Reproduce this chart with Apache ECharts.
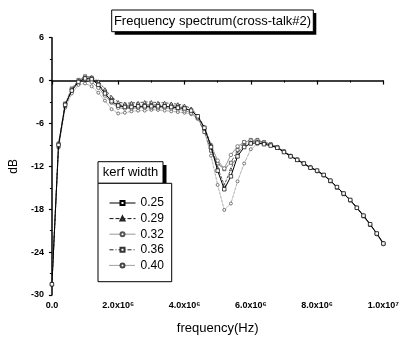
<!DOCTYPE html>
<html><head><meta charset="utf-8">
<script src="https://cdn.jsdelivr.net/npm/echarts@6/dist/echarts.min.js"></script>
<style>html,body{margin:0;padding:0;background:#fff}#c{width:402px;height:340px}</style>
</head><body><div id="c"></div>
<script>
// frequency (Hz)
const freq = [0,2e5,4e5,6e5,8e5,1.0e6,1.2e6,1.4e6,1.6e6,1.8e6,2.0e6,2.2e6,2.4e6,2.6e6,2.8e6,3.0e6,3.2e6,3.4e6,3.6e6,3.8e6,
  4.0e6,4.2e6,4.4e6,4.6e6,4.8e6,5.0e6,5.2e6,5.4e6,5.6e6,5.8e6,6.0e6,6.2e6,6.4e6,6.6e6,6.8e6,7.0e6,7.2e6,7.4e6,7.6e6,7.8e6,
  8.0e6,8.2e6,8.4e6,8.6e6,8.8e6,9.0e6,9.2e6,9.4e6,9.6e6,9.8e6,1.0e7];
// dB values per kerf width
const kerf025 = [-28.5,-9.0,-3.4,-1.4,-0.2,0.3,0.2,-0.6,-1.8,-2.9,-3.5,-3.7,-3.7,-3.6,-3.6,-3.6,-3.6,-3.6,-3.7,-3.8,
  -3.9,-4.2,-5.0,-6.6,-9.3,-12.6,-15.2,-13.4,-10.6,-9.3,-8.8,-8.7,-8.9,-9.1,-9.4,-10.0,-10.6,-11.1,-11.6,-12.2,
  -12.6,-13.2,-14.0,-14.9,-15.8,-16.7,-17.8,-18.9,-20.1,-21.4,-22.8];
const kerf029 = [-28.5,-9.2,-3.5,-1.3,0.0,0.5,0.5,-0.1,-1.2,-2.3,-3.0,-3.2,-3.1,-3.1,-3.0,-3.0,-3.1,-3.1,-3.2,-3.3,
  -3.5,-3.9,-4.9,-6.5,-9.0,-12.2,-14.6,-12.4,-10.2,-9.0,-8.6,-8.5,-8.7,-9.0,-9.4,-9.9,-10.5,-11.1,-11.6,-12.1,
  -12.6,-13.2,-14.0,-14.9,-15.8,-16.7,-17.8,-18.9,-20.1,-21.4,-22.7];
const kerf032 = [-28.5,-9.0,-3.3,-1.2,-0.1,0.2,-0.2,-1.0,-2.1,-3.1,-3.8,-3.9,-3.9,-3.8,-3.8,-3.8,-3.8,-3.8,-3.9,-4.0,
  -4.2,-4.5,-5.2,-6.7,-9.0,-11.2,-12.3,-10.4,-9.2,-8.6,-8.4,-8.4,-8.6,-8.9,-9.3,-9.9,-10.5,-11.0,-11.6,-12.1,
  -12.7,-13.3,-14.0,-14.9,-15.8,-16.8,-17.8,-18.9,-20.1,-21.5,-22.9];
const kerf036 = [-28.5,-8.8,-3.2,-1.1,0.1,0.6,0.4,-0.5,-1.5,-2.6,-3.4,-3.5,-3.4,-3.4,-3.4,-3.4,-3.4,-3.5,-3.5,-3.6,
  -3.8,-4.3,-5.3,-7.2,-9.8,-11.6,-12.4,-11.5,-9.7,-8.6,-8.3,-8.3,-8.6,-8.9,-9.3,-9.9,-10.6,-11.1,-11.6,-12.2,
  -12.6,-13.2,-14.1,-15.0,-15.9,-16.7,-17.8,-19.0,-20.2,-21.4,-22.8];
const kerf040 = [-28.5,-9.4,-3.8,-1.8,-0.6,-0.4,-0.8,-1.7,-2.8,-4.0,-4.6,-4.5,-4.3,-4.2,-4.2,-4.1,-4.1,-4.2,-4.3,-4.4,
  -4.5,-4.7,-5.3,-7.0,-10.5,-14.6,-18.1,-17.2,-14.1,-11.6,-9.6,-8.9,-8.8,-9.0,-9.4,-10.0,-10.6,-11.1,-11.7,-12.2,
  -12.6,-13.2,-14.0,-14.9,-15.8,-16.7,-17.8,-18.9,-20.1,-21.4,-22.8];
const seriesNames = ['0.25','0.29','0.32','0.36','0.40'];
const xTickLabels = ['0.0','2.0x10\u2076','4.0x10\u2076','6.0x10\u2076','8.0x10\u2076','1.0x10\u2077'];
const titleText = 'Frequency spectrum(cross-talk#2)';
const legendTitle = 'kerf width';

const FONT = '"Liberation Sans", Arial, sans-serif';
const pair = ys => freq.map((f,i)=>[f, ys[i]]);
const styles = [
  {data:kerf025, line:{color:'#000',width:1,type:'solid'}, symbol:'rect', size:3.5, fill:'#fff', border:'#000', z:6},
  {data:kerf029, line:{color:'#111',width:0.7,type:'dashed'}, symbol:'triangle', size:3, fill:'#fff', border:'#222', z:5},
  {data:kerf032, line:{color:'#999',width:1,type:'solid'}, symbol:'circle', size:3.5, fill:'#fff', border:'#555', z:4},
  {data:kerf036, line:{color:'#222',width:0.7,type:[4,2,1,2]}, symbol:'rect', size:3, fill:'#fff', border:'#333', z:3},
  {data:kerf040, line:{color:'#444',width:0.7,type:'dotted'}, symbol:'circle', size:3, fill:'#fff', border:'#444', z:2}
];
const series = styles.map((s,k)=>({
  name: seriesNames[k], type:'line', data: pair(s.data), z: s.z,
  symbol: s.symbol, symbolSize: s.size, showSymbol:true, showAllSymbol:true,
  lineStyle: s.line, itemStyle:{color:s.fill, borderColor:s.border, borderWidth:0.7},
  emphasis:{disabled:true}, animation:false
}));

const chart = echarts.init(document.getElementById('c'), null, {renderer:'canvas'});
chart.setOption({
  animation:false,
  textStyle:{fontFamily:FONT},
  grid:{left:50, right:16, top:37.7, bottom:45, containLabel:false},
  xAxis:{type:'value', min:0, max:1e7, interval:2e6,
    name:'frequency(Hz)', nameLocation:'middle', nameGap:27,
    nameTextStyle:{fontSize:13, color:'#000', fontFamily:FONT},
    axisLine:{show:true, lineStyle:{color:'#000', width:1.5}},
    axisTick:{show:true, inside:false, length:4, lineStyle:{color:'#000', width:1.2}},
    minorTick:{show:true, splitNumber:2, length:2, lineStyle:{color:'#000'}},
    splitLine:{show:false},
    axisLabel:{fontSize:9, fontWeight:'bold', color:'#000', margin:6, fontFamily:FONT,
      formatter:(v)=>xTickLabels[Math.round(v/2e6)]}
  },
  yAxis:{type:'value', min:-30, max:6, interval:6,
    name:'dB', nameLocation:'middle', nameGap:26, nameRotate:90,
    nameTextStyle:{fontSize:12, color:'#000', fontFamily:FONT},
    axisLine:{show:true, lineStyle:{color:'#000', width:1.5}},
    axisTick:{show:true, inside:false, length:3, lineStyle:{color:'#000', width:1.2}},
    minorTick:{show:true, splitNumber:2, length:2, lineStyle:{color:'#000'}},
    splitLine:{show:false},
    axisLabel:{fontSize:9, fontWeight:'bold', color:'#000', margin:8, fontFamily:FONT}
  },
  legend:{show:true, orient:'vertical', left:104, top:191, padding:[5,5,5,5], itemWidth:26, itemHeight:5, itemGap:1.6,
    z:50, selectedMode:false, data:seriesNames, lineStyle:{width:1},
    textStyle:{fontSize:12, color:'#000', fontFamily:FONT, lineHeight:14}},
  graphic:[
    {type:'rect', z:10, shape:{x:114.7, y:13, width:201.6, height:21.7}, style:{fill:'#000'}},
    {type:'rect', z:11, shape:{x:111.7, y:10, width:201.6, height:21.7}, style:{fill:'#fff', stroke:'#000', lineWidth:1}},
    {type:'text', z:12, x:212.5, y:21, style:{text:titleText, font:'13px '+FONT, fill:'#000', align:'center', verticalAlign:'middle'}},
    {type:'rect', z:10, shape:{x:101.5, y:165, width:65, height:18.3}, style:{fill:'#000'}},
    {type:'rect', z:11, shape:{x:98, y:161.7, width:65, height:21.6}, style:{fill:'#fff', stroke:'#000', lineWidth:1}},
    {type:'text', z:12, x:130.5, y:172.5, style:{text:legendTitle, font:'13px '+FONT, fill:'#000', align:'center', verticalAlign:'middle'}},
    {type:'rect', z:11, shape:{x:98, y:183.3, width:73.7, height:98.4}, style:{fill:'#fff', stroke:'#000', lineWidth:1}}
  ],
  series: series
});
</script></body></html>
